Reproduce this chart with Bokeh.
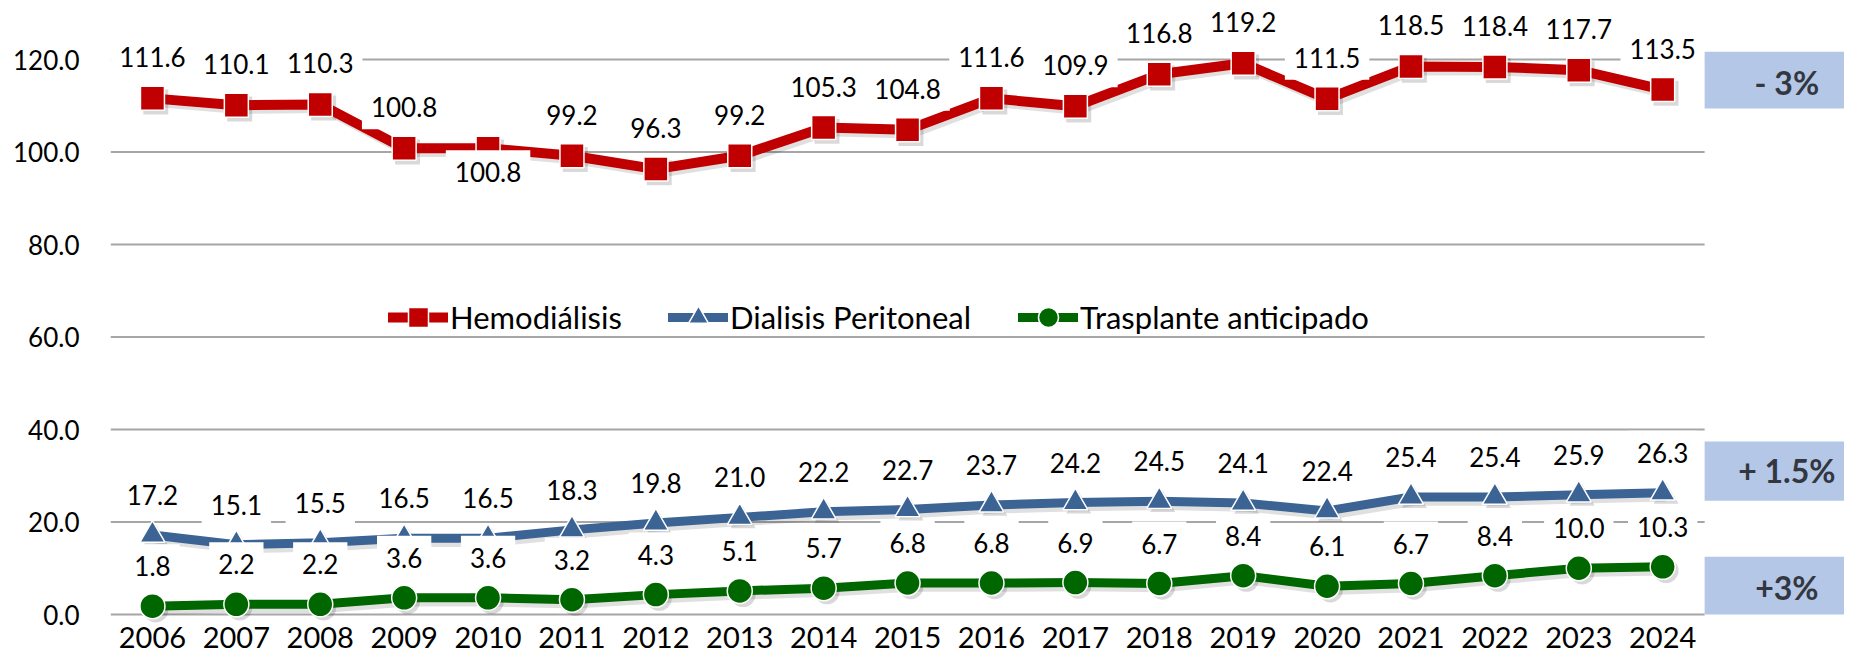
from bokeh.plotting import figure
from bokeh.models import (ColumnDataSource, FixedTicker, PrintfTickFormatter,
                          Legend, LegendItem, BoxAnnotation, Label, Range1d)
from bokeh.transform import dodge
from bokeh.core.properties import value
from bokeh.embed import file_html
from bokeh.resources import INLINE

# ---------------- data ----------------
years = ["2006", "2007", "2008", "2009", "2010", "2011", "2012", "2013", "2014",
         "2015", "2016", "2017", "2018", "2019", "2020", "2021", "2022", "2023", "2024"]
hemodialisis = [111.6, 110.1, 110.3, 100.8, 100.8, 99.2, 96.3, 99.2, 105.3, 104.8,
                111.6, 109.9, 116.8, 119.2, 111.5, 118.5, 118.4, 117.7, 113.5]
dialisis_peritoneal = [17.2, 15.1, 15.5, 16.5, 16.5, 18.3, 19.8, 21.0, 22.2, 22.7,
                       23.7, 24.2, 24.5, 24.1, 22.4, 25.4, 25.4, 25.9, 26.3]
trasplante = [1.8, 2.2, 2.2, 3.6, 3.6, 3.2, 4.3, 5.1, 5.7, 6.8,
              6.8, 6.9, 6.7, 8.4, 6.1, 6.7, 8.4, 10.0, 10.3]
series_names = ["Hemodiálisis", "Dialisis Peritoneal", "Trasplante anticipado"]
y_ticks = [0, 20, 40, 60, 80, 100, 120]
change_labels = ["- 3%", "+ 1.5%", "+3%"]

# ---------------- style ----------------
FONT = "Lato"
RED, BLUE, GREEN = "#C00000", "#3B6394", "#006600"
BOX_COLOR = "#B4C7E7"
W, H = 1844, 656

xs = list(range(len(years)))
src = ColumnDataSource(dict(
    x=xs, hemo=hemodialisis, dp=dialisis_peritoneal, tx=trasplante,
    hemo_lbl=[f"{v:.1f}" for v in hemodialisis],
    dp_lbl=[f"{v:.1f}" for v in dialisis_peritoneal],
    tx_lbl=[f"{v:.1f}" for v in trasplante],
    hemo_off=[24 if yr == "2010" else -41 for yr in years],
    dp_off=[-40] * len(years),
    tx_off=[-40] * len(years),
))

p = figure(width=W, height=H, output_backend="svg", toolbar_location=None,
           x_range=Range1d(-0.5, 20.167), y_range=Range1d(-9.08, 132.76),
           min_border_left=110, min_border_right=0, min_border_top=0,
           min_border_bottom=0)
p.outline_line_color = None
p.background_fill_color = "white"
p.border_fill_color = "white"
p.xgrid.visible = False
p.ygrid.visible = False

# gridlines (stop before the annotation boxes)
grid_src = ColumnDataSource(dict(y=y_ticks))
p.segment(x0=-0.5, x1=18.5, y0="y", y1="y", source=grid_src,
          line_color="#A6A6A6", line_width=2)

# axes
p.xaxis.ticker = FixedTicker(ticks=xs)
p.xaxis.major_label_overrides = {i: y for i, y in enumerate(years)}
p.xaxis.fixed_location = 0
p.yaxis.ticker = FixedTicker(ticks=y_ticks)
p.yaxis.formatter = PrintfTickFormatter(format="%.1f")
for ax in (p.xaxis[0], p.yaxis[0]):
    ax.axis_line_color = None
    ax.major_tick_line_color = None
    ax.minor_tick_line_color = None
    ax.major_tick_out = 0
    ax.major_tick_in = 0
    ax.major_label_text_font = FONT
    ax.major_label_text_color = "#000000"
p.xaxis.major_label_text_font_size = "29px"
p.yaxis.major_label_text_font_size = "26px"
p.xaxis.major_label_standoff = 12
p.yaxis.major_label_standoff = 31

# shadows
for col, mk in (("hemo", "square"), ("dp", "triangle"), ("tx", "circle")):
    sx = dodge("x", 0.04, range=p.x_range)
    sy = dodge(col, -0.8, range=p.y_range)
    p.line(x=sx, y=sy, source=src, line_color="black", line_alpha=0.12,
           line_width=10, line_join="round")
    p.scatter(x=sx, y=sy, source=src, marker=mk, size=25,
              fill_color="black", fill_alpha=0.15, line_color=None)

# series
r_hl = p.line("x", "hemo", source=src, line_color=RED, line_width=10, line_join="round", line_cap="round")
r_hm = p.scatter("x", "hemo", source=src, marker="square", size=24, fill_color=RED,
                 line_color="white", line_width=1.5)
r_dl = p.line("x", "dp", source=src, line_color=BLUE, line_width=9, line_join="round", line_cap="round")
r_dm = p.scatter("x", "dp", source=src, marker="triangle", size=25, fill_color=BLUE,
                 line_color="white", line_width=1.5)
r_tl = p.line("x", "tx", source=src, line_color=GREEN, line_width=9, line_join="round", line_cap="round")
r_tm = p.scatter("x", "tx", source=src, marker="circle", size=25, fill_color=GREEN,
                 line_color="white", line_width=1.5)

# data labels with white boxes
for col in ("hemo", "dp", "tx"):
    p.text(x="x", y=col, text=f"{col}_lbl", y_offset=f"{col}_off", source=src,
           text_align="center", text_baseline="middle",
           text_font=value(FONT), text_font_size="26px", text_color="#000000",
           background_fill_color="white", padding=(9, 12))

# legends (three, placed individually)
legend_x = [278, 558, 908]
for name, rends, lx in zip(series_names, [[r_hl, r_hm], [r_dl, r_dm], [r_tl, r_tm]], legend_x):
    lg = Legend(items=[LegendItem(label=name, renderers=rends)], location=(lx, 314),
                orientation="horizontal", padding=0, margin=0, spacing=0,
                glyph_width=60, glyph_height=50, label_height=50, label_standoff=2,
                label_text_font=FONT, label_text_font_size="31px",
                label_text_color="#000000", background_fill_alpha=0,
                border_line_alpha=0)
    p.add_layout(lg, "center")

# change boxes
boxes = [(109.4, 121.7, 115.0), (24.6, 37.4, 31.1), (0.0, 12.5, 5.8)]
for (b, t, ty), txt in zip(boxes, change_labels):
    p.add_layout(BoxAnnotation(left=18.5, bottom=b, top=t, fill_color=BOX_COLOR,
                               fill_alpha=1, line_color=None))
    p.add_layout(Label(x=19.48, y=ty, text=txt, text_align="center", text_baseline="middle",
                       text_font=FONT, text_font_size="32px", text_font_style="bold",
                       text_color="#333740"))

open("out.html", "w").write(file_html(p, INLINE))
